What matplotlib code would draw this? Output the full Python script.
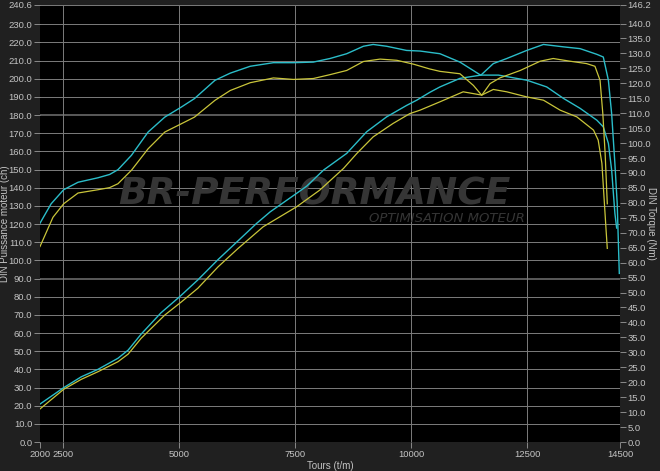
import matplotlib
matplotlib.use('Agg')
import matplotlib.pyplot as plt

# Puissance (ch), axe gauche
rpm_pw_cyan = [2000, 2510, 2890, 3250, 3680, 3900, 4180, 4610, 5010, 5400, 5840, 6270,
               6670, 6960, 7530, 7750, 8110, 8610, 9040, 9470, 9900, 10120, 10400, 10620,
               11050, 11500, 11880, 12490, 12920, 13280, 13640, 14000, 14140, 14250,
               14320, 14390, 14428]
pw_cyan = [20.9, 29.9, 35.9, 40.0, 46.1, 50.6, 59.4, 71.2, 80.0, 89.2, 100.5, 110.8,
           120.4, 126.7, 136.9, 140.9, 149.7, 158.9, 170.8, 179.0, 185.3, 188.2, 192.5, 195.5,
           200.2, 202.0, 202.0, 199.2, 195.5, 189.2, 183.7, 177.2, 173.5, 164.4,
           149.7, 125.9, 117.8]

rpm_pw_yellow = [2000, 2510, 2890, 3250, 3680, 3900, 4180, 4690, 5050, 5400, 5840, 6270,
                 6810, 7530, 8030, 8540, 8830, 9180, 9610, 9970, 10190, 10620, 11120,
                 11520, 11770, 12060, 12490, 12850, 13210, 13570, 13930, 14030, 14110,
                 14155, 14200, 14226]
pw_yellow = [18.2, 29.0, 34.5, 38.7, 44.2, 48.4, 57.1, 69.9, 77.2, 84.6, 96.5, 106.6,
             118.5, 129.5, 138.7, 150.6, 158.9, 168.0, 175.4, 180.8, 182.7, 187.3, 192.8,
             191.0, 194.1, 192.8, 190.0, 188.2, 182.7, 179.0, 171.7, 166.2, 153.4,
             135.0, 116.7, 106.6]

# Couple (Nm), axe droit
rpm_tq_cyan = [2000, 2240, 2510, 2820, 3250, 3500, 3680, 3970, 4330, 4690, 5050, 5330,
               5770, 6100, 6530, 7030, 7460, 7890, 8250, 8610, 8970, 9180, 9470, 9900,
               10190, 10620, 11050, 11500, 11770, 12060, 12490, 12850, 13280, 13640,
               14000, 14140, 14250, 14320, 14390, 14440, 14485]
tq_cyan = [73.2, 79.7, 84.4, 86.9, 88.4, 89.5, 91.1, 95.9, 103.7, 108.7, 112.1, 114.9,
           121.0, 123.4, 125.7, 126.9, 126.9, 127.1, 128.3, 129.9, 132.4, 133.0, 132.4, 131.0,
           130.8, 129.9, 127.1, 122.7, 126.6, 128.3, 131.0, 133.0, 132.2, 131.6,
           129.7, 128.8, 121.0, 109.8, 93.1, 79.7, 56.4]

rpm_tq_yellow = [2000, 2280, 2510, 2820, 3250, 3500, 3680, 3970, 4330, 4690, 5050, 5330,
                 5770, 6100, 6530, 7030, 7460, 7890, 8250, 8610, 8970, 9330, 9690, 10050,
                 10400, 10620, 11050, 11340, 11520, 11700, 11910, 12350, 12780, 13060,
                 13420, 13780, 13960, 14070, 14130, 14180, 14226]
tq_yellow = [65.4, 75.2, 79.7, 83.3, 84.4, 85.1, 86.4, 90.9, 98.1, 103.7, 106.5, 108.7,
             114.3, 117.6, 120.2, 121.8, 121.3, 121.6, 122.9, 124.3, 127.3, 128.1, 127.7, 126.4,
             124.8, 124.0, 123.2, 119.3, 116.0, 119.9, 121.8, 124.3, 127.4, 128.3,
             127.4, 126.6, 125.7, 121.0, 109.8, 96.4, 79.7]

x_ticks = [2000, 2500, 5000, 7500, 10000, 12500, 14500]
left_ticks = [i * 10 for i in range(24)] + [240.6]
right_ticks = [i * 5 for i in range(29)] + [146.2]

CYAN = '#2bbdc9'
YELLOW = '#c9c53a'
TXT = '#c4c4c4'
GRID = '#7c7c7c'
plt.rcParams['font.family'] = ['Liberation Sans', 'DejaVu Sans']

fig = plt.figure(figsize=(6.6, 4.71), dpi=100, facecolor='#202020')
ax = fig.add_axes([40 / 660, 1 - 442 / 471, 580 / 660, 437 / 471])
ax.set_facecolor('black')
ax2 = ax.twinx()

ax.set_xlim(2000, 14500)
ax.set_ylim(0, 240.6)
ax2.set_ylim(0, 146.2)

for v in left_ticks:
    if v in (90, 180):
        ax.axhline(v, color='#5a5a5a', lw=1.4, zorder=1)
    else:
        ax.axhline(v, color=GRID, lw=0.7, zorder=1)
for v in [2500, 5000, 7500, 10000, 12500]:
    ax.axvline(v, color=GRID, lw=0.7, zorder=1)

# filigrane
ax.text(0.135, 0.567, 'BR-PERFORMANCE', transform=ax.transAxes, fontsize=27,
        fontweight='bold', style='italic', color='#353535', ha='left', va='center',
        family='DejaVu Sans', zorder=2)
ax.text(0.836, 0.512, 'OPTIMISATION MOTEUR', transform=ax.transAxes, fontsize=9.5,
        style='italic', color='#353535', ha='right', va='center',
        family='DejaVu Sans', zorder=2)

ax.plot(rpm_pw_cyan, pw_cyan, color=CYAN, lw=1.0, zorder=4)
ax.plot(rpm_pw_yellow, pw_yellow, color=YELLOW, lw=0.9, zorder=4)
ax2.plot(rpm_tq_cyan, tq_cyan, color=CYAN, lw=1.0, zorder=4)
ax2.plot(rpm_tq_yellow, tq_yellow, color=YELLOW, lw=0.9, zorder=4)

ax.set_xticks(x_ticks)
ax.set_xticklabels([str(t) for t in x_ticks])
ax.set_yticks(left_ticks)
ax.set_yticklabels(['%.1f' % t for t in left_ticks])
ax2.set_yticks(right_ticks)
ax2.set_yticklabels(['%.1f' % t for t in right_ticks])

for a in (ax, ax2):
    a.tick_params(colors=TXT, labelsize=6.8, length=4, width=0.7, pad=1.5)
    a.tick_params(axis='both', color='#8a8a8a')
    for s in a.spines.values():
        s.set_visible(False)

ax.set_xlabel('Tours (t/m)', color=TXT, fontsize=7, labelpad=2)
ax.set_ylabel('DIN Puissance moteur (ch)', color=TXT, fontsize=7)
ax.yaxis.set_label_coords(-0.052, 0.5)
ax2.set_ylabel('DIN Torque (Nm)', color=TXT, fontsize=7, rotation=-90, va='center')
ax2.yaxis.set_label_coords(1.053, 0.5)

fig.savefig('out.png', dpi=100, facecolor=fig.get_facecolor())
